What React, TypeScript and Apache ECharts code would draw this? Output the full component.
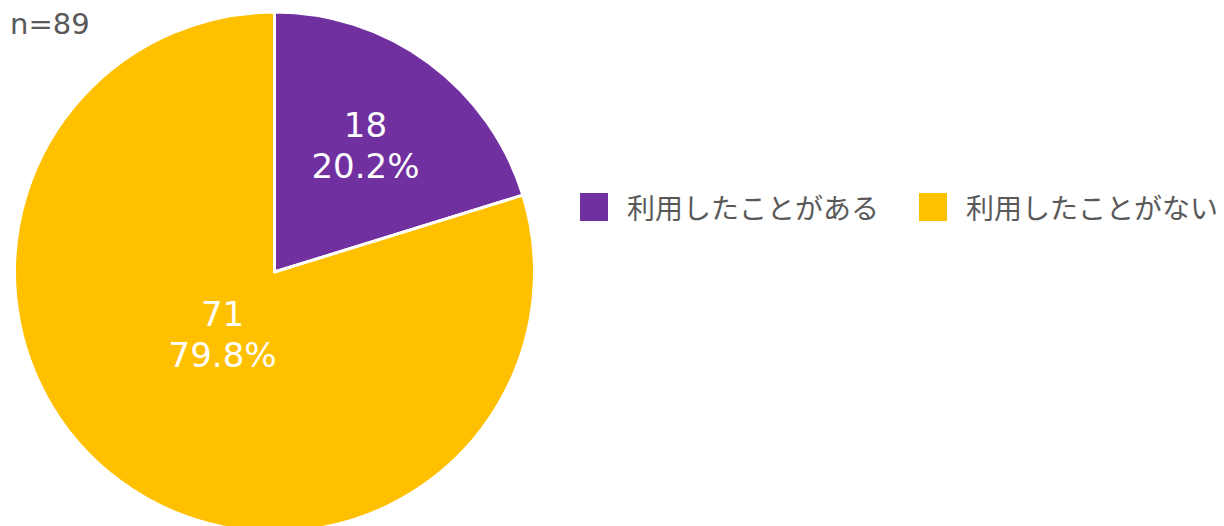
import React, { useEffect, useRef } from "react";
import * as echarts from "echarts";

const categories = ["利用したことがある", "利用したことがない"];
const values = [18, 71];
const percents = ["20.2%", "79.8%"];
const colors = ["#7030A0", "#FFC000"];
const labelOffsets = [
  [12, -19],
  [27, -45],
];
const sampleLabel = "n=89";

export default function App() {
  const ref = useRef<HTMLDivElement>(null);
  useEffect(() => {
    if (!ref.current) return;
    const chart = echarts.init(ref.current, undefined, { renderer: "svg" });
    chart.setOption({
      animation: false,
      backgroundColor: "#ffffff",
      graphic: [
        {
          type: "text",
          left: 10,
          top: 9,
          style: {
            text: sampleLabel,
            fontFamily: "DejaVu Sans",
            fontSize: 29,
            fill: "#595959",
          },
        },
      ],
      legend: {
        orient: "horizontal",
        left: 580,
        top: 193,
        width: 640,
        padding: 0,
        itemWidth: 28,
        itemHeight: 28,
        itemGap: 40,
        icon: "rect",
        itemStyle: { borderWidth: 0 },
        data: categories,
        textStyle: {
          fontFamily: "Noto Sans CJK JP",
          fontSize: 28,
          color: "#595959",
          padding: [0, 0, 0, 14],
        },
      },
      series: [
        {
          type: "pie",
          center: [274.5, 272],
          radius: [0, 260],
          startAngle: 90,
          clockwise: true,
          silent: true,
          itemStyle: { borderColor: "#ffffff", borderWidth: 3 },
          label: {
            show: true,
            position: "inside",
            color: "#ffffff",
            fontFamily: "DejaVu Sans",
            fontSize: 34,
            lineHeight: 41,
            formatter: (p: any) => `${p.value}\n${percents[p.dataIndex]}`,
          },
          labelLine: { show: false },
          data: categories.map((name, i) => ({
            name,
            value: values[i],
            itemStyle: { color: colors[i] },
            label: { offset: labelOffsets[i] },
          })),
        },
      ],
    });
    return () => chart.dispose();
  }, []);
  return (
    <div
      ref={ref}
      style={{ position: "absolute", left: 0, top: 0, width: 1224, height: 526 }}
    />
  );
}
